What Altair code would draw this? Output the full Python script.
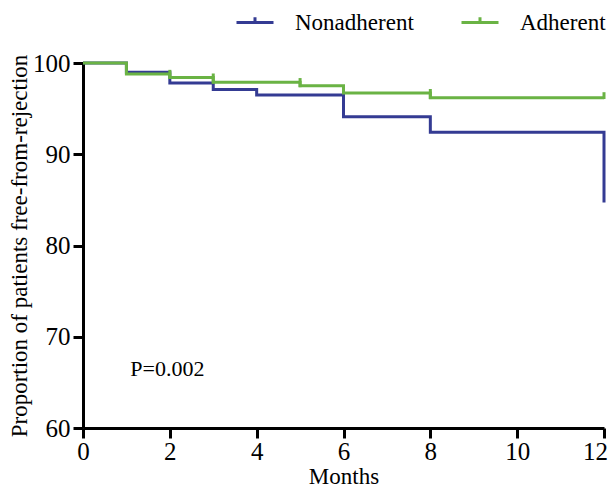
import altair as alt
import pandas as pd

groups = ["Nonadherent", "Adherent"]
colors = ["#343b93", "#6ab344"]

non_months = [0, 1, 2, 3, 4, 6, 8, 12]
non_surv = [100, 99.0, 97.8, 97.1, 96.5, 94.1, 92.4, 84.7]

adh_months = [0, 1, 2, 3, 5, 6, 8, 12]
adh_surv = [100, 98.8, 98.4, 97.9, 97.5, 96.7, 96.2, 96.2]

adh_censor = [2, 3, 5, 8, 12]

x_ticks = [0, 2, 4, 6, 8, 10, 12]
y_ticks = [60, 70, 80, 90, 100]

p_text = "P=0.002"
p_pos = (1.09, 66.5)

rows = []
for g, ms, ss in [("Nonadherent", non_months, non_surv), ("Adherent", adh_months, adh_surv)]:
    for m, s in zip(ms, ss):
        rows.append({"group": g, "month": m, "surv": s})
df = pd.DataFrame(rows)

cens = []
for t in adh_censor:
    i = adh_months.index(t)
    pre = adh_surv[i - 1] if adh_surv[i - 1] != adh_surv[i] else adh_surv[i] + 0.15
    cens.append({"group": "Adherent", "month": t, "lo": adh_surv[i] - 0.15, "hi": pre + 0.45})
cdf = pd.DataFrame(cens)

font = "Liberation Serif, Times New Roman, Times, DejaVu Serif, serif"

xscale = alt.Scale(domain=[0, 12], nice=False)
yscale = alt.Scale(domain=[60, 100], nice=False)
cscale = alt.Scale(domain=groups, range=colors)

lines = alt.Chart(df).mark_line(interpolate="step-after", strokeWidth=3).encode(
    x=alt.X("month:Q", scale=xscale, title="Months",
            axis=alt.Axis(values=x_ticks, labelFlush=False, titleFontSize=23,
                          labelOffset={"condition": {"test": "datum.value == 12", "value": -9},
                                       "value": 0})),
    y=alt.Y("surv:Q", scale=yscale, title="Proportion of patients free-from-rejection",
            axis=alt.Axis(values=y_ticks, titleFontSize=23)),
    color=alt.Color("group:N", scale=cscale, sort=groups,
                    legend=alt.Legend(title=None, orient="none", direction="horizontal",
                                      legendX=152, legendY=-60.5,
                                      symbolType="M-1,0H1M0,0V-0.28",
                                      symbolSize=1369, symbolStrokeWidth=3,
                                      symbolFillColor="transparent",
                                      labelFont=font, labelFontSize=23,
                                      labelColor="black", labelOffset=20,
                                      columnPadding=41)),
)

ticks = alt.Chart(cdf).mark_rule(strokeWidth=3).encode(
    x=alt.X("month:Q", scale=xscale),
    y=alt.Y("lo:Q", scale=yscale),
    y2="hi:Q",
    color=alt.Color("group:N", scale=cscale, sort=groups),
)

ptext = alt.Chart(pd.DataFrame({"x": [p_pos[0]], "y": [p_pos[1]], "t": [p_text]})).mark_text(
    align="left", baseline="middle", font=font, fontSize=22, color="black"
).encode(
    x=alt.X("x:Q", scale=xscale),
    y=alt.Y("y:Q", scale=yscale),
    text="t:N",
)

non_line = lines.transform_filter(alt.datum.group == "Nonadherent")
adh_line = lines.transform_filter(alt.datum.group == "Adherent")

chart = alt.layer(non_line, adh_line, ticks, ptext).properties(
    width=521, height=365,
    autosize=alt.AutoSizeParams(type="none"),
    padding={"left": 75, "top": 55, "right": 4, "bottom": 60},
).configure_view(stroke=None).configure_axis(
    grid=False, domainColor="black", domainWidth=3, tickColor="black",
    tickWidth=3, tickSize=10, labelFont=font, labelFontSize=25,
    labelColor="black", titleFont=font,
    titleFontWeight="normal", titleColor="black",
).configure_axisX(labelPadding=1, titlePadding=1).configure_axisY(
    labelPadding=3, titlePadding=1
)

chart.save("out.html", embed_options={"renderer": "svg", "actions": False})
